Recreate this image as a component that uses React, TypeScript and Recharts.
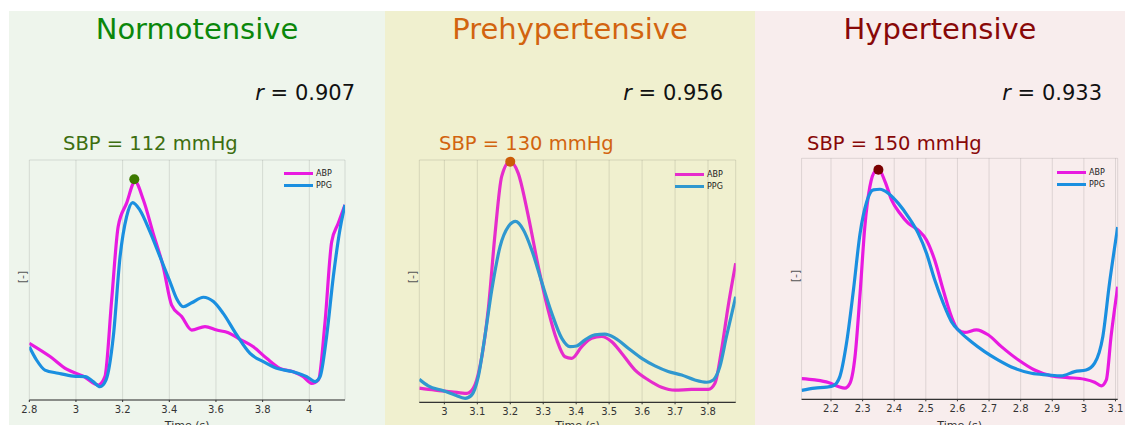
import React from 'react';
import { LineChart, Line, XAxis, YAxis, CartesianGrid, ReferenceDot, Legend } from 'recharts';

const FONT = '"DejaVu Sans", Verdana, sans-serif';

// ---------- text ----------
const panelTitles = ['Normotensive', 'Prehypertensive', 'Hypertensive'];
const rValues = ['0.907', '0.956', '0.933'];
const sbpValues = [112, 130, 150];
const seriesNames = ['ABP', 'PPG'];

// ---------- axes ----------
const normXTicks = [2.8, 3, 3.2, 3.4, 3.6, 3.8, 4];
const preXTicks = [3, 3.1, 3.2, 3.3, 3.4, 3.5, 3.6, 3.7, 3.8];
const hypXTicks = [2.2, 2.3, 2.4, 2.5, 2.6, 2.7, 2.8, 2.9, 3, 3.1];
const normXDomain = [2.8, 4.153];
const preXDomain = [2.924, 3.884];
const hypXDomain = [2.107, 3.107];
const normYTicks = [1, 2, 3, 4, 5, 6, 7, 8];
const preYTicks = [0, 1, 2, 3, 4, 5, 6];
const hypYTicks = [0, 1, 2, 3, 4, 5, 6];
const normYDomain = [0, 8.34];
const preYDomain = [-0.153, 7.26];
const hypYDomain = [-0.64, 6.68];

// ---------- peaks (time, value) ----------
const normPeak = [3.25, 7.67];
const prePeak = [3.2, 7.21];
const hypPeak = [2.35, 6.33];

// ---------- series (time [s], normalised value) ----------
const normABP = [
  [2.8, 1.97], [2.889, 1.51], [2.96, 1.07], [3.031, 0.83], [3.096, 0.52], [3.124, 0.81],
  [3.153, 3.48], [3.181, 6.03], [3.217, 6.84], [3.253, 7.59], [3.289, 6.95], [3.331, 5.79],
  [3.374, 4.63], [3.41, 3.3], [3.453, 2.9], [3.496, 2.43], [3.553, 2.55], [3.603, 2.43],
  [3.653, 2.34], [3.703, 2.11], [3.76, 1.85], [3.817, 1.45], [3.874, 1.1], [3.931, 0.98],
  [3.974, 0.81], [4.01, 0.58], [4.039, 0.7], [4.067, 2.67], [4.096, 5.5], [4.124, 6.14],
  [4.153, 6.78],
];
const normPPG = [
  [2.8, 1.85], [2.831, 1.39], [2.867, 1.04], [2.924, 0.93], [2.989, 0.83], [3.039, 0.81],
  [3.074, 0.64], [3.103, 0.46], [3.129, 0.7], [3.16, 2.2], [3.189, 4.98], [3.217, 6.37],
  [3.243, 6.86], [3.274, 6.6], [3.317, 5.85], [3.36, 4.98], [3.403, 4.11], [3.431, 3.53],
  [3.46, 3.24], [3.496, 3.38], [3.546, 3.57], [3.589, 3.42], [3.631, 3.01], [3.689, 2.26],
  [3.746, 1.62], [3.803, 1.33], [3.86, 1.1], [3.931, 0.98], [3.989, 0.81], [4.024, 0.64],
  [4.046, 0.81], [4.074, 2.2], [4.103, 4.29], [4.131, 5.91], [4.153, 6.78],
];
const preABP = [
  [2.924, 0.28], [2.972, 0.22], [3.022, 0.17], [3.068, 0.12], [3.088, 0.28], [3.108, 0.94],
  [3.133, 2.67], [3.154, 5.02], [3.174, 6.76], [3.199, 7.21], [3.224, 6.86], [3.255, 5.53],
  [3.285, 4.0], [3.315, 2.67], [3.341, 1.76], [3.366, 1.24], [3.386, 1.19], [3.417, 1.55],
  [3.447, 1.81], [3.477, 1.86], [3.508, 1.7], [3.538, 1.35], [3.578, 0.84], [3.619, 0.53],
  [3.659, 0.31], [3.7, 0.22], [3.75, 0.24], [3.801, 0.24], [3.821, 0.43], [3.841, 1.45],
  [3.861, 2.78], [3.884, 4.1],
];
const prePPG = [
  [2.924, 0.55], [2.951, 0.35], [2.997, 0.2], [3.032, 0.07], [3.063, -0.03], [3.083, 0.07],
  [3.103, 0.63], [3.123, 1.86], [3.144, 3.29], [3.169, 4.61], [3.194, 5.22], [3.216, 5.38],
  [3.24, 5.12], [3.265, 4.51], [3.295, 3.54], [3.326, 2.57], [3.356, 1.81], [3.381, 1.55],
  [3.401, 1.57], [3.427, 1.76], [3.457, 1.91], [3.487, 1.93], [3.518, 1.81], [3.558, 1.5],
  [3.599, 1.19], [3.639, 0.96], [3.679, 0.79], [3.72, 0.68], [3.76, 0.53], [3.796, 0.46],
  [3.816, 0.53], [3.836, 0.94], [3.856, 1.86], [3.884, 3.08],
];
const hypABP = [
  [2.107, -0.01], [2.149, -0.05], [2.192, -0.13], [2.223, -0.25], [2.244, -0.3], [2.26, -0.15],
  [2.276, 0.66], [2.292, 2.58], [2.307, 4.6], [2.323, 5.82], [2.339, 6.28], [2.352, 6.33],
  [2.371, 5.97], [2.392, 5.41], [2.418, 5.01], [2.444, 4.71], [2.476, 4.5], [2.502, 4.2],
  [2.528, 3.59], [2.555, 2.68], [2.581, 1.87], [2.602, 1.47], [2.623, 1.39], [2.66, 1.47],
  [2.697, 1.32], [2.739, 0.96], [2.792, 0.56], [2.844, 0.25], [2.897, 0.07], [2.949, 0.02],
  [3.002, -0.03], [3.034, -0.12], [3.055, -0.23], [3.071, -0.05], [3.086, 1.27], [3.107, 2.78],
];
const hypPPG = [
  [2.107, -0.37], [2.149, -0.3], [2.186, -0.27], [2.207, -0.23], [2.228, 0.05], [2.249, 1.06],
  [2.271, 2.68], [2.292, 4.4], [2.313, 5.36], [2.334, 5.72], [2.355, 5.74], [2.381, 5.62],
  [2.413, 5.31], [2.444, 4.91], [2.476, 4.4], [2.502, 3.8], [2.528, 2.99], [2.555, 2.28],
  [2.581, 1.72], [2.607, 1.42], [2.644, 1.11], [2.686, 0.81], [2.728, 0.56], [2.781, 0.3],
  [2.834, 0.15], [2.886, 0.1], [2.928, 0.07], [2.971, 0.2], [3.007, 0.25], [3.034, 0.46],
  [3.06, 1.27], [3.081, 2.88], [3.107, 4.59],
];

const rows = (pairs: number[][]) => pairs.map(([t, v]) => ({ t, v }));

// ---------- layout / style ----------
const PANEL_TOP = 11;
const PANEL_H = 414;

const panels = [
  {
    x: 9, w: 376, bg: '#eef5ec', titleColor: '#0b870b', sbpColor: '#3d6e10', dotColor: '#3d7a00',
    abpColor: '#e81ae0', ppgColor: '#1a8fe0', rRight: 30, sbpLeft: 54,
    margin: { top: 149, left: 20.3, right: 40, bottom: 0 }, xAxisH: 25,
    legend: { left: 275, top: 156 }, ylab: { x: 13.5, y: 266 },
    abp: normABP, ppg: normPPG, xTicks: normXTicks, xDomain: normXDomain, yTicks: normYTicks, yDomain: normYDomain, peak: normPeak,
  },
  {
    x: 385, w: 370, bg: '#f0f0cf', titleColor: '#d2640f', sbpColor: '#d2640f', dotColor: '#cc5c08',
    abpColor: '#e62ccc', ppgColor: '#3098cf', rRight: 32, sbpLeft: 54,
    margin: { top: 149, left: 34.3, right: 19.3, bottom: 0 }, xAxisH: 22.7,
    legend: { left: 290, top: 157 }, ylab: { x: 28, y: 266 },
    abp: preABP, ppg: prePPG, xTicks: preXTicks, xDomain: preXDomain, yTicks: preYTicks, yDomain: preYDomain, peak: prePeak,
  },
  {
    x: 755, w: 370, bg: '#f8eded', titleColor: '#880808', sbpColor: '#880808', dotColor: '#7a0000',
    abpColor: '#e81ae0', ppgColor: '#1a8fe0', rRight: 23, sbpLeft: 52,
    margin: { top: 147.3, left: 46.6, right: 7.3, bottom: 0 }, xAxisH: 25.7,
    legend: { left: 302, top: 155 }, ylab: { x: 41, y: 265 },
    abp: hypABP, ppg: hypPPG, xTicks: hypXTicks, xDomain: hypXDomain, yTicks: hypYTicks, yDomain: hypYDomain, peak: hypPeak,
  },
];

const LegendContent = (props: any) => {
  const payload = props.payload || [];
  return (
    <div style={{ fontFamily: FONT, fontSize: 8, color: '#222' }}>
      {payload.map((p: any) => (
        <div key={p.value} style={{ display: 'flex', alignItems: 'center', height: 12 }}>
          <span style={{ display: 'inline-block', width: 29, height: 3, background: p.color, marginRight: 3 }} />
          <span>{p.value}</span>
        </div>
      ))}
    </div>
  );
};

export default function App() {
  return (
    <div style={{ position: 'absolute', left: 0, top: 0, width: 1125, height: 427, background: '#fff', overflow: 'hidden' }}>
      {panels.map((p, i) => (
        <div
          key={i}
          style={{ position: 'absolute', left: p.x, top: PANEL_TOP, width: p.w, height: PANEL_H, background: p.bg, overflow: 'hidden' }}
        >
          <div style={{ position: 'absolute', left: 0, width: p.w, top: 3.5, textAlign: 'center', fontFamily: FONT, fontSize: 29, lineHeight: '29px', color: p.titleColor, whiteSpace: 'nowrap' }}>
            {panelTitles[i]}
          </div>
          <div style={{ position: 'absolute', right: p.rRight, top: 72.2, fontFamily: FONT, fontSize: 21, lineHeight: '21px', color: '#111', whiteSpace: 'nowrap' }}>
            <i>r</i> = {rValues[i]}
          </div>
          <div style={{ position: 'absolute', left: p.sbpLeft, top: 122.5, fontFamily: FONT, fontSize: 19.5, lineHeight: '19.5px', color: p.sbpColor, whiteSpace: 'nowrap' }}>
            SBP = {sbpValues[i]} mmHg
          </div>
          <div style={{ position: 'absolute', left: p.ylab.x - 20, top: p.ylab.y - 7, width: 40, height: 14, textAlign: 'center', transform: 'rotate(-90deg)', fontFamily: FONT, fontSize: 11, lineHeight: '14px', color: '#555' }}>
            [-]
          </div>
          <div style={{ position: 'absolute', left: 0, top: 0 }}>
            <LineChart width={p.w} height={PANEL_H} margin={p.margin}>
              <CartesianGrid stroke="rgba(0,0,0,0.11)" strokeWidth={1} />
              <XAxis
                dataKey="t"
                type="number"
                domain={p.xDomain}
                ticks={p.xTicks}
                allowDataOverflow
                height={p.xAxisH}
                tickSize={2}
                tickMargin={4}
                axisLine={{ stroke: '#333', strokeWidth: 1.2 }}
                tickLine={{ stroke: '#333' }}
                tick={{ fontFamily: FONT, fontSize: 10, fill: '#333' }}
                label={{ value: 'Time (s)', position: 'bottom', offset: -4, style: { fontFamily: FONT, fontSize: 11, fill: '#333' } }}
              />
              <YAxis
                type="number"
                domain={p.yDomain}
                ticks={p.yTicks}
                allowDataOverflow
                width={0}
                tick={false}
                tickLine={false}
                axisLine={false}
              />
              <Legend
                layout="horizontal"
                verticalAlign="middle"
                align="center"
                content={<LegendContent />}
                wrapperStyle={{ left: p.legend.left, top: p.legend.top, width: 60, height: 24 }}
              />
              <Line data={rows(p.abp)} dataKey="v" name={seriesNames[0]} type="monotone" stroke={p.abpColor} strokeWidth={3.2} dot={false} isAnimationActive={false} />
              <Line data={rows(p.ppg)} dataKey="v" name={seriesNames[1]} type="monotone" stroke={p.ppgColor} strokeWidth={3.2} dot={false} isAnimationActive={false} />
              <ReferenceDot x={p.peak[0]} y={p.peak[1]} r={5} fill={p.dotColor} stroke="none" ifOverflow="visible" />
            </LineChart>
          </div>
        </div>
      ))}
    </div>
  );
}
